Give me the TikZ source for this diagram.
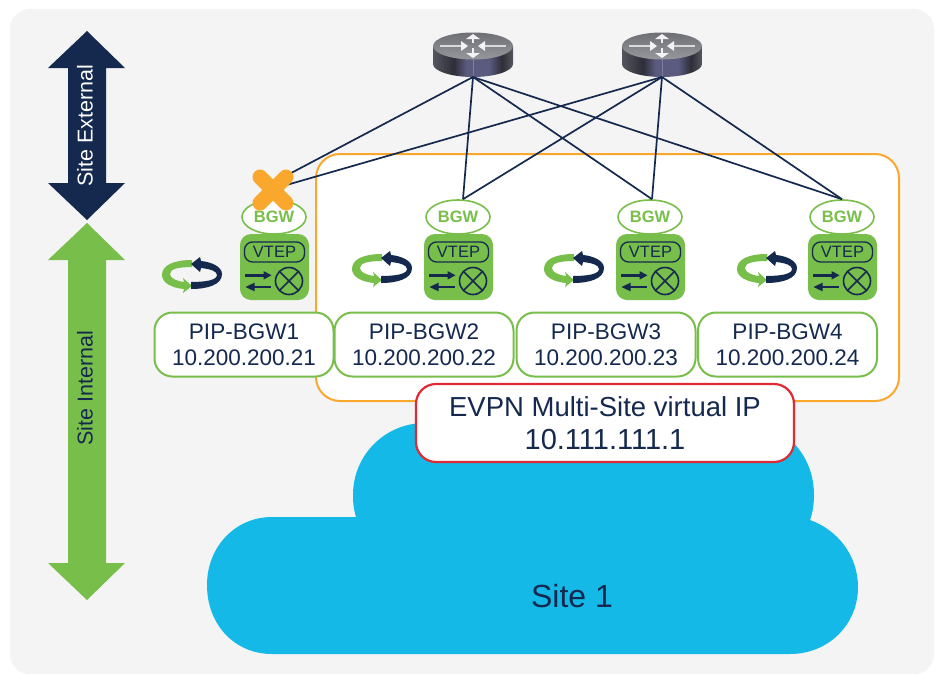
\documentclass[tikz,border=0pt]{standalone}
\usepackage{fontspec}
\setmainfont{Liberation Sans}
\usetikzlibrary{shapes.geometric,calc}
\definecolor{navy}{HTML}{15294F}
\definecolor{leaf}{HTML}{78BE4A}
\definecolor{sky}{HTML}{14B9E8}
\definecolor{amber}{HTML}{F9A82D}
\definecolor{alarm}{HTML}{DF2A33}
\definecolor{panel}{HTML}{F4F4F4}
\definecolor{rA}{HTML}{55555F}
\definecolor{rB}{HTML}{2E2E38}
\definecolor{rC}{HTML}{5B5B80}
\definecolor{rD}{HTML}{7C7CA0}
\definecolor{rE}{HTML}{6E6E75}
\definecolor{rF}{HTML}{97979E}
\pgfdeclarehorizontalshading{routerbody}{100bp}{
 color(0bp)=(rA);
 color(25bp)=(rA);
 color(38bp)=(rB);
 color(46bp)=(rC);
 color(49.5bp)=(rC);
 color(50bp)=(rD);
 color(50.5bp)=(rC);
 color(60bp)=(rC);
 color(68bp)=(rB);
 color(75bp)=(rA);
 color(100bp)=(rA)}
\tikzset{
 x=1pt,y=-1pt,
 pipbox/.style={draw=leaf,line width=2pt,fill=white,rounded corners=18pt,minimum width=179pt,minimum height=64pt,align=center,text=navy,font=\fontsize{22.5}{26}\selectfont,inner sep=0pt},
 bgwpill/.style={ellipse,draw=leaf,line width=1.6pt,fill=white,minimum width=64pt,minimum height=34pt,inner sep=0pt,text=leaf,font=\fontsize{16.5}{16.5}\selectfont\bfseries},
 link/.style={navy,line width=1.7pt},
 pics/vtep/.style={code={
  \fill[leaf,rounded corners=11pt] (-34.5,-33) rectangle (34.5,33);
  \node[draw=navy,line width=1.3pt,rounded corners=8pt,minimum width=60pt,minimum height=20pt,inner sep=0pt,text=navy,font=\fontsize{16.5}{16.5}\selectfont] (-label) at (0,-15) {VTEP};
  \fill[navy] (-29.5,7) rectangle (-9,9.6);
  \fill[navy] (-11,4) -- (-3,8.3) -- (-11,12.6) -- cycle;
  \fill[navy] (-21,18.7) rectangle (-3.5,21.3);
  \fill[navy] (-20,15.7) -- (-29,20) -- (-20,24.3) -- cycle;
  \draw[navy,line width=1.6pt] (14.5,14) circle[radius=13.5pt];
  \draw[navy,line width=1.6pt] (5,4.5) -- (24,23.5) (24,4.5) -- (5,23.5);
 }},
 pics/spin/.style={code={
  \fill[leaf] (0,12) -- (-9,19) -- (-8,15) .. controls (-20,14) and (-30,9) .. (-30,1) .. controls (-30,-9) and (-18,-14) .. (0,-14) -- (0,-7) .. controls (-14,-7) and (-22,-5) .. (-22,0) .. controls (-22,4) and (-16,7) .. (-8,8) -- (-9,4) -- cycle;
  \fill[navy] (-1,15) .. controls (15,15) and (30,11) .. (30,0) .. controls (30,-7) and (20,-12) .. (9,-13) -- (8,-17) -- (-1,-10) -- (8,-2) -- (9,-6) .. controls (18,-5) and (25,-3) .. (25,1) .. controls (25,6) and (14,8) .. (-1,8) -- cycle;
 }},
 pics/router/.style={code={
  \shade[shading=routerbody] (-40,-31) -- (-40,-13) .. controls (-40,-6) and (-22,0) .. (0,0) .. controls (22,0) and (40,-6) .. (40,-13) -- (40,-31) -- cycle;
  \shade[top color=rE,bottom color=rF] (0,-31) ellipse[x radius=40,y radius=13.5];
  \begin{scope}[white!90!gray,line width=1.5pt]
   \draw (0,-34) -- (0,-39); \fill (-7,-38) -- (0,-43) -- (7,-38) -- cycle;
   \draw (0,-29) -- (0,-23); \fill (-7,-24) -- (0,-19) -- (7,-24) -- cycle;
   \draw[white!70!gray] (-33,-31) -- (-12,-31); \fill (-12,-36) -- (-5,-31) -- (-12,-26) -- cycle;
   \draw[white!70!gray] (33,-31) -- (12,-31); \fill (12,-36) -- (5,-31) -- (12,-26) -- cycle;
  \end{scope}
 }},
}
\begin{document}
\begin{tikzpicture}
\useasboundingbox (0,0) rectangle (935,673);
\fill[white] (0,0) rectangle (935,673);
\fill[panel,rounded corners=20pt] (10,9) rectangle (934,674);
% scale arrows
\fill[navy] (87,31) -- (125,68) -- (106,68) -- (106,183) -- (125,183) -- (87,220) -- (48,183) -- (68,183) -- (68,68) -- (48,68) -- cycle;
\fill[leaf] (87,223) -- (125,260) -- (106,260) -- (106,563) -- (125,563) -- (87,600) -- (48,563) -- (68,563) -- (68,260) -- (48,260) -- cycle;
\node[rotate=90,text=white,font=\fontsize{21.5}{21.5}\selectfont,inner sep=0pt] (extlabel) at (85,126) {Site External};
\node[rotate=90,text=navy,font=\fontsize{21.5}{21.5}\selectfont,inner sep=0pt] (intlabel) at (85,388) {Site Internal};
% anycast group
\node[draw=amber,line width=2pt,fill=white,rounded corners=24pt,minimum width=583pt,minimum height=247pt,inner sep=0pt] (group) at (607.5,277.5) {};
% cloud
\fill[sky] (356,517) .. controls (353,507) and (353,500) .. (353,495) .. controls (353,455) and (385,423) .. (425,423) -- (745,423) .. controls (785,423) and (814,455) .. (814,495) .. controls (814,503) and (813,512) .. (810,520) .. controls (838,530) and (858,556) .. (858,587) .. controls (858,625) and (828,654) .. (790,654) -- (272,654) .. controls (235,654) and (207,625) .. (207,585) .. controls (207,547) and (235,517) .. (272,517) -- cycle;
\node[text=navy,font=\fontsize{32}{32}\selectfont,inner sep=0pt] (site) at (572,596) {Site 1};
% VIP
\node[draw=alarm,line width=2.2pt,fill=white,rounded corners=20pt,minimum width=378pt,minimum height=78pt,align=center,text=navy,font=\fontsize{27.5}{33}\selectfont,inner sep=0pt] (vip) at (605,423) {EVPN Multi-Site virtual IP\\\fontsize{29}{33}\selectfont 10.111.111.1};
% PIP boxes
\node[pipbox] (pip1) at (244,344.5) {PIP-BGW1\\10.200.200.21};
\node[pipbox] (pip2) at (424,344.5) {PIP-BGW2\\10.200.200.22};
\node[pipbox] (pip3) at (606,344.5) {PIP-BGW3\\10.200.200.23};
\node[pipbox] (pip4) at (787.5,344.5) {PIP-BGW4\\10.200.200.24};
% routers
\pic (r1pic) at (473,77) {router};
\pic (r2pic) at (662,77) {router};
\coordinate (r1) at (473,77);
\coordinate (r2) at (662,77);
% BGW
\node[bgwpill] (bgw1) at (274,217) {BGW};
\node[bgwpill] (bgw2) at (458,217) {BGW};
\node[bgwpill] (bgw3) at (650,217) {BGW};
\node[bgwpill] (bgw4) at (842,217) {BGW};
\coordinate (b1a) at (276,181);
\coordinate (b1b) at (283,186);
\coordinate (b2) at ($(bgw2.north)+(5,0)$);
\coordinate (b3) at ($(bgw3.north)+(2,0)$);
\coordinate (b4) at ($(bgw4.north)+(0,0)$);
\draw[link] (r1) -- (b1a);
\draw[link] (r1) -- (b2);
\draw[link] (r1) -- (b3);
\draw[link] (r1) -- (b4);
\draw[link] (r2) -- (b1b);
\draw[link] (r2) -- (b2);
\draw[link] (r2) -- (b3);
\draw[link] (r2) -- (b4);
% VTEP
\pic (v1) at (274.5,267) {vtep};
\pic (v2) at (458.5,267) {vtep};
\pic (v3) at (650.5,267) {vtep};
\pic (v4) at (842.5,267) {vtep};
\pic (s1) at (192,274) {spin};
\pic (s2) at (382,268) {spin};
\pic (s3) at (574,268) {spin};
\pic (s4) at (767,268) {spin};
% failure mark
\draw[amber,line width=15pt,line cap=round] (260,177) -- (286,203) (286,177) -- (260,203);
\end{tikzpicture}
\end{document}
